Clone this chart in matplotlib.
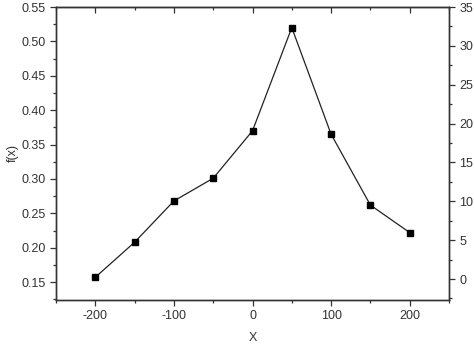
import matplotlib
matplotlib.use("Agg")
import matplotlib.pyplot as plt
from matplotlib.ticker import MultipleLocator

plt.rcParams['font.family'] = ['Liberation Sans', 'DejaVu Sans']
plt.rcParams['axes.unicode_minus'] = False

# data
x_vals = [-200, -150, -100, -50, 0, 50, 100, 150, 200]
fx_vals = [0.157, 0.208, 0.268, 0.301, 0.370, 0.520, 0.365, 0.262, 0.222]

ink = "#333333"
fs = 9

fig = plt.figure(figsize=(4.74, 3.44), dpi=100)
ax = fig.add_axes([56/474, 1 - 300/344, (449-56)/474, (300-7)/344])

ax.plot(x_vals, fx_vals, color="#222222", lw=0.9, marker="s", ms=5,
        mfc="black", mec="black")

ax.set_xlim(-250, 250)
ax.set_ylim(0.124, 0.55)
ax.xaxis.set_major_locator(MultipleLocator(100))
ax.xaxis.set_minor_locator(MultipleLocator(50))
ax.yaxis.set_major_locator(MultipleLocator(0.05))
ax.yaxis.set_minor_locator(MultipleLocator(0.025))
ax.yaxis.set_major_formatter(plt.FormatStrFormatter('%.2f'))
ax.set_xlabel("X", fontsize=fs, color=ink, labelpad=7)
ax.set_ylabel("f(x)", fontsize=fs, color=ink, labelpad=2)

ax2 = ax.twinx()
ax2.set_ylim(-2.7, 35)
ax2.yaxis.set_major_locator(MultipleLocator(5))
ax2.yaxis.set_minor_locator(MultipleLocator(2.5))

for a in (ax, ax2):
    for s in a.spines.values():
        s.set_color(ink)
        s.set_linewidth(1.0)
    a.tick_params(which="both", colors=ink, labelsize=fs, width=0.9)
    a.tick_params(which="major", length=4)
    a.tick_params(which="minor", length=2.5)

ax.tick_params(axis="x", which="both", top=False, direction="out")
ax.tick_params(axis="y", which="both", direction="out")
ax2.tick_params(axis="y", which="both", direction="out")

# inward ticks on the top edge
top = ax.secondary_xaxis("top")
top.set_xticks(x_vals[::2])
top.xaxis.set_minor_locator(MultipleLocator(50))
top.tick_params(which="both", direction="in", colors=ink, labeltop=False, width=0.9)
top.tick_params(which="major", length=4)
top.tick_params(which="minor", length=2.5)
top.spines["top"].set_color(ink)

fig.savefig("out.png", dpi=100)
